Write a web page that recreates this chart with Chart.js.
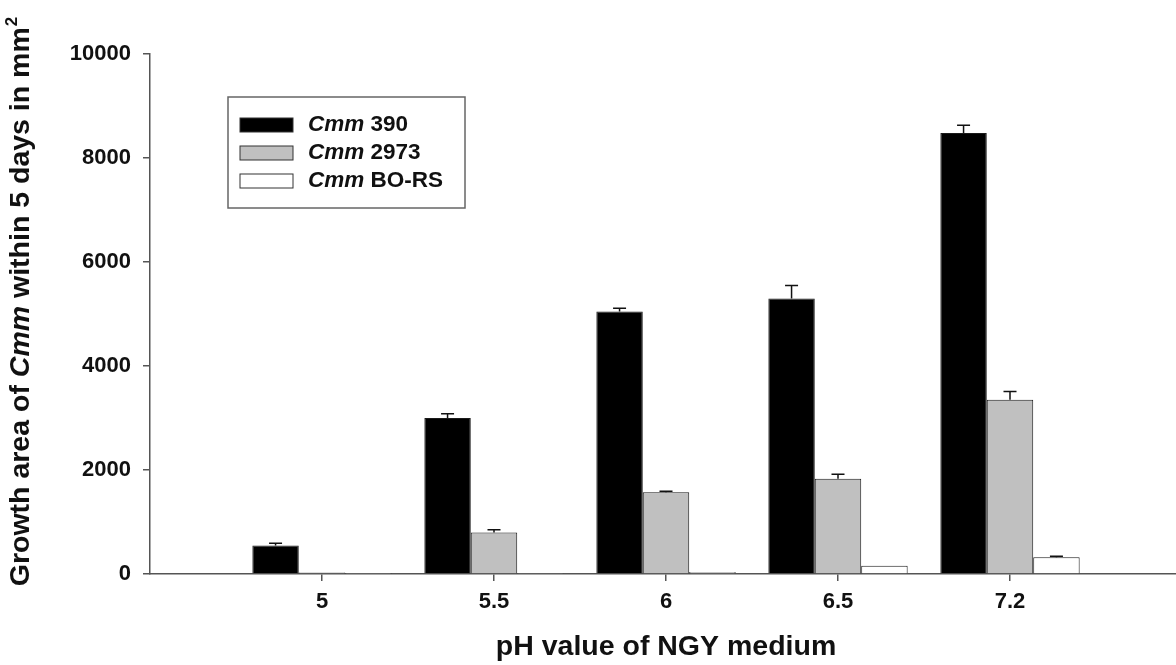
<!DOCTYPE html>
<html><head><meta charset="utf-8">
<script src="https://cdn.jsdelivr.net/npm/chart.js@4"></script>
<style>
html,body{margin:0;padding:0;overflow:hidden;background:#fff;width:1176px;height:665px}
#wrap{width:1190px;height:665px}
</style>
</head><body><div id="wrap"><canvas id="c" width="1190" height="665"></canvas></div>
<script>
// ---- data ----
const categories = ['5', '5.5', '6', '6.5', '7.2'];
const seriesNames = ['390', '2973', 'BO-RS'];
const cmm390   = [550, 3000, 5050, 5300, 8480];
const err390   = [40, 80, 60, 250, 150];
const cmm2973  = [30, 800, 1570, 1830, 3350];
const err2973  = [0, 50, 20, 90, 160];
const cmmBORS  = [5, 8, 40, 160, 320];
const errBORS  = [0, 0, 0, 0, 20];
const yTicks   = [0, 2000, 4000, 6000, 8000, 10000];

const FONT = '"Liberation Sans", Arial, Helvetica, sans-serif';
const fills = ['#000000', '#c0c0c0', '#ffffff'];
const pad = a => [null, ...a, null];
const labels = ['', ...categories, ''];

const seriesValues = [cmm390, cmm2973, cmmBORS];
const seriesErrors = [err390, err2973, errBORS];

const datasets = seriesValues.map((vals, i) => ({
  label: 'Cmm ' + seriesNames[i],
  data: pad(vals),
  errors: pad(seriesErrors[i]),
  backgroundColor: fills[i],
  borderColor: '#1a1a1a',
  borderWidth: 1,
  borderSkipped: 'bottom',
  categoryPercentage: 0.81,
  barPercentage: 1.0
}));

const errorBars = {
  id: 'errorBars',
  afterDatasetsDraw(chart) {
    const ctx = chart.ctx, y = chart.scales.y;
    ctx.save();
    ctx.strokeStyle = '#111';
    ctx.lineWidth = 1.5;
    chart.data.datasets.forEach((ds, di) => {
      const meta = chart.getDatasetMeta(di);
      ds.data.forEach((v, i) => {
        const e = ds.errors[i];
        if (v == null || !e) return;
        const el = meta.data[i];
        const x = el.x;
        const y0 = y.getPixelForValue(v);
        const y1 = y.getPixelForValue(v + e);
        ctx.beginPath();
        ctx.moveTo(x, y0); ctx.lineTo(x, y1);
        ctx.moveTo(x - 6.5, y1); ctx.lineTo(x + 6.5, y1);
        ctx.stroke();
      });
    });
    ctx.restore();
  }
};

const customLegend = {
  id: 'customLegend',
  afterDraw(chart) {
    const ctx = chart.ctx;
    ctx.save();
    ctx.strokeStyle = '#666';
    ctx.lineWidth = 1.5;
    ctx.strokeRect(228, 97, 237, 111);
    chart.data.datasets.forEach((ds, i) => {
      const cy = 125 + i * 28;
      ctx.fillStyle = ds.backgroundColor;
      ctx.fillRect(240, cy - 7, 53, 14);
      ctx.strokeStyle = '#333';
      ctx.lineWidth = 1;
      ctx.strokeRect(240, cy - 7, 53, 14);
      ctx.fillStyle = '#111';
      ctx.textBaseline = 'middle';
      ctx.textAlign = 'left';
      ctx.font = 'italic bold 22.5px ' + FONT;
      ctx.fillText('Cmm', 308, cy);
      const w = ctx.measureText('Cmm').width;
      ctx.font = 'bold 22.5px ' + FONT;
      ctx.fillText(' ' + seriesNames[i], 308 + w, cy);
    });
    ctx.restore();
  }
};

const yTitle = {
  id: 'yTitle',
  afterDraw(chart) {
    const ctx = chart.ctx;
    const parts = [
      {t: 'Growth area of ', f: 'bold 28.5px ' + FONT},
      {t: 'Cmm', f: 'italic bold 28.5px ' + FONT},
      {t: ' within 5 days in mm', f: 'bold 28.5px ' + FONT}
    ];
    const sup = {t: '2', f: 'bold 17px ' + FONT};
    ctx.save();
    let total = 0;
    parts.forEach(p => { ctx.font = p.f; p.w = ctx.measureText(p.t).width; total += p.w; });
    ctx.font = sup.f; sup.w = ctx.measureText(sup.t).width; total += sup.w;
    ctx.translate(29, 302);
    ctx.rotate(-Math.PI / 2);
    ctx.fillStyle = '#111';
    ctx.textBaseline = 'alphabetic';
    ctx.textAlign = 'left';
    let x = -total / 2;
    parts.forEach(p => { ctx.font = p.f; ctx.fillText(p.t, x, 0); x += p.w; });
    ctx.font = sup.f; ctx.fillText(sup.t, x + 1, -12);
    ctx.restore();
  }
};

new Chart(document.getElementById('c'), {
  type: 'bar',
  data: { labels, datasets },
  options: {
    responsive: false,
    animation: false,
    devicePixelRatio: 1,
    layout: { padding: { top: 54, right: 4, left: 0, bottom: 0 } },
    plugins: { legend: { display: false }, tooltip: { enabled: false } },
    scales: {
      x: {
        type: 'category',
        offset: false,
        grid: {
          offset: false,
          drawOnChartArea: false, tickLength: 7, lineWidth: 1.5,
          color: c => (c.index === 0 || c.index === labels.length - 1) ? 'rgba(0,0,0,0)' : '#555'
        },
        border: { color: '#555', width: 1.5 },
        ticks: { autoSkip: false, maxRotation: 0, padding: 8, color: '#111',
                 font: { family: FONT, size: 22, weight: 'bold' } },
        title: { display: true, text: 'pH value of NGY medium', color: '#111',
                 font: { family: FONT, size: 28.5, weight: 'bold' }, padding: { top: 0, bottom: 1 } },
        afterFit: s => { s.height = 91; }
      },
      y: {
        min: 0, max: 10000,
        afterBuildTicks: s => { s.ticks = yTicks.map(v => ({ value: v })); },
        grid: { drawOnChartArea: false, tickLength: 7, lineWidth: 1.5, color: '#555' },
        border: { color: '#555', width: 1.5 },
        ticks: { padding: 12, color: '#111', callback: v => String(v),
                 font: { family: FONT, size: 22, weight: 'bold' } },
        afterFit: s => { s.width = 150; }
      }
    }
  },
  plugins: [errorBars, customLegend, yTitle]
});
</script>
</body></html>
